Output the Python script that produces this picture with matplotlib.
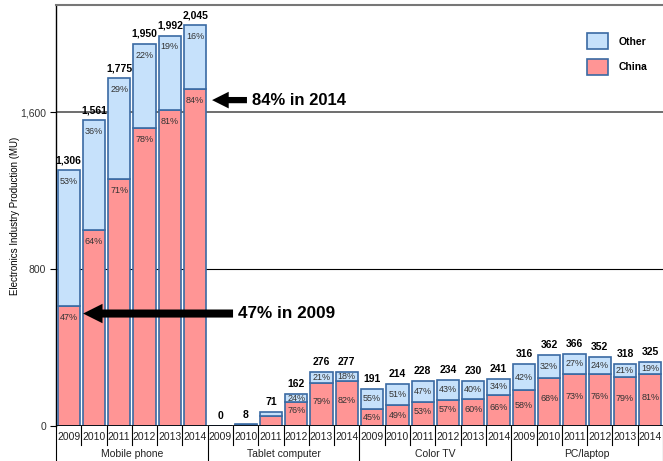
import numpy as np
import matplotlib.pyplot as plt
from matplotlib.patches import FancyArrowPatch
from matplotlib.transforms import blended_transform_factory

plt.rcParams['font.family'] = ['Liberation Sans', 'DejaVu Sans']

# Production by category, 2009-2014, in million units
groups = ['Mobile phone', 'Tablet computer', 'Color TV', 'PC/laptop']
years = ['2009', '2010', '2011', '2012', '2013', '2014']
totals = [1306, 1561, 1775, 1950, 1992, 2045,
          0, 8, 71, 162, 276, 277,
          191, 214, 228, 234, 230, 241,
          316, 362, 366, 352, 318, 325]
china_pct = [47, 64, 71, 78, 81, 84,
             0, 50, 72, 76, 79, 82,
             45, 49, 53, 57, 60, 66,
             58, 68, 73, 76, 79, 81]
show_pct = [True] * 6 + [False, False, False, True, True, True] + [True] * 12

blue = '#c6e1fb'
red = '#ff9595'
edge = '#3a6aa3'

totals = np.array(totals, dtype=float)
china = totals * np.array(china_pct) / 100
other = totals - china
x = np.arange(len(totals))

fig = plt.figure(figsize=(6.63, 4.61), dpi=100)
ax = fig.add_axes([56 / 663, 35 / 461, 607 / 663, 421 / 461])

ax.bar(x, china, width=0.88, color=red, edgecolor=edge, linewidth=1.2, label='China', zorder=3)
ax.bar(x, other, bottom=china, width=0.88, color=blue, edgecolor=edge, linewidth=1.2,
       label='Other', zorder=3)

ax.set_xlim(-0.5, len(totals) - 0.5)
ax.set_ylim(0, 2148)
ax.set_yticks([0, 800, 1600])
ax.set_yticklabels(['0', '800', '1,600'], fontsize=7.5, color='#333333')
ax.tick_params(axis='y', length=4, width=0.8, pad=3)
ax.set_xticks([])
ax.set_ylabel('Electronics Industry Production (MU)', fontsize=7)
ax.yaxis.set_label_coords(-0.06, 0.5)

ax.axhline(800, color='black', lw=0.8, zorder=1)
ax.axhline(1600, color='#555555', lw=1.2, zorder=1)
for s in ['right', 'bottom']:
    ax.spines[s].set_visible(False)
ax.spines['top'].set_color('#777777')
ax.spines['top'].set_linewidth(1.5)
ax.spines['left'].set_linewidth(1.0)
ax.axhline(0, color='black', lw=1.2, zorder=4)

# value and share labels
for i in x:
    t = totals[i]
    ax.text(i, t + 25, f'{int(t):,}', ha='center', va='bottom', fontsize=7.5,
            fontweight='bold')
    if not show_pct[i]:
        continue
    if t > 1000:
        ax.text(i, t - 35, f'{100 - china_pct[i]}%', ha='center', va='top', fontsize=6.5,
                color='#333333', zorder=5)
        ax.text(i, china[i] - 35, f'{china_pct[i]}%', ha='center', va='top', fontsize=6.5,
                color='#333333', zorder=5)
    else:
        ax.text(i, china[i] + other[i] / 2, f'{100 - china_pct[i]}%', ha='center',
                va='center', fontsize=6.5, color='#333333', zorder=5)
        ax.text(i, china[i] / 2 + (15 if china[i] > 120 else 0), f'{china_pct[i]}%',
                ha='center', va='center', fontsize=6.5, color='#333333', zorder=5)

# category axis: year row and group row
trans = blended_transform_factory(ax.transData, ax.transAxes)
for i in x:
    ax.text(i, -0.027, years[i % 6], transform=trans, ha='center', va='center',
            fontsize=7.5, color='#222222')
for k in range(len(totals) + 1):
    bottom = -0.083 if k % 6 == 0 else -0.045
    ax.plot([k - 0.5, k - 0.5], [0, bottom], transform=trans, color='black', lw=0.8,
            clip_on=False)
for g, name in enumerate(groups):
    ax.text(g * 6 + 2.5, -0.066, name, transform=trans, ha='center', va='center',
            fontsize=7.5, color='#222222')


# callouts: block arrows pointing at the China share
def block_arrow(x0, x1, y, head, tail):
    arr = FancyArrowPatch((x0, y), (x1, y), mutation_scale=1, color='black', lw=0,
                          shrinkA=0, shrinkB=0,
                          arrowstyle=f'simple,head_length={head},head_width={head},'
                                     f'tail_width={tail}', zorder=6)
    ax.add_patch(arr)


y84 = china[5] - 55
block_arrow(7.05, 5.67, y84, 12, 4.5)
ax.text(7.25, y84, '84% in 2014', fontsize=12, fontweight='bold', va='center')
y47 = china[0] - 40
block_arrow(6.5, 0.57, y47, 14, 5.8)
ax.text(6.7, y47, '47% in 2009', fontsize=12.3, fontweight='bold', va='center')

handles, labels = ax.get_legend_handles_labels()
leg = ax.legend(handles[::-1], labels[::-1], loc='upper right', bbox_to_anchor=(1.0, 0.97),
                frameon=False, fontsize=7.5, handlelength=2.0, handleheight=2.0,
                labelspacing=0.9, borderpad=1.0, handletextpad=1.0)
for t in leg.get_texts():
    t.set_fontweight('bold')

fig.savefig('out.png', dpi=100)
